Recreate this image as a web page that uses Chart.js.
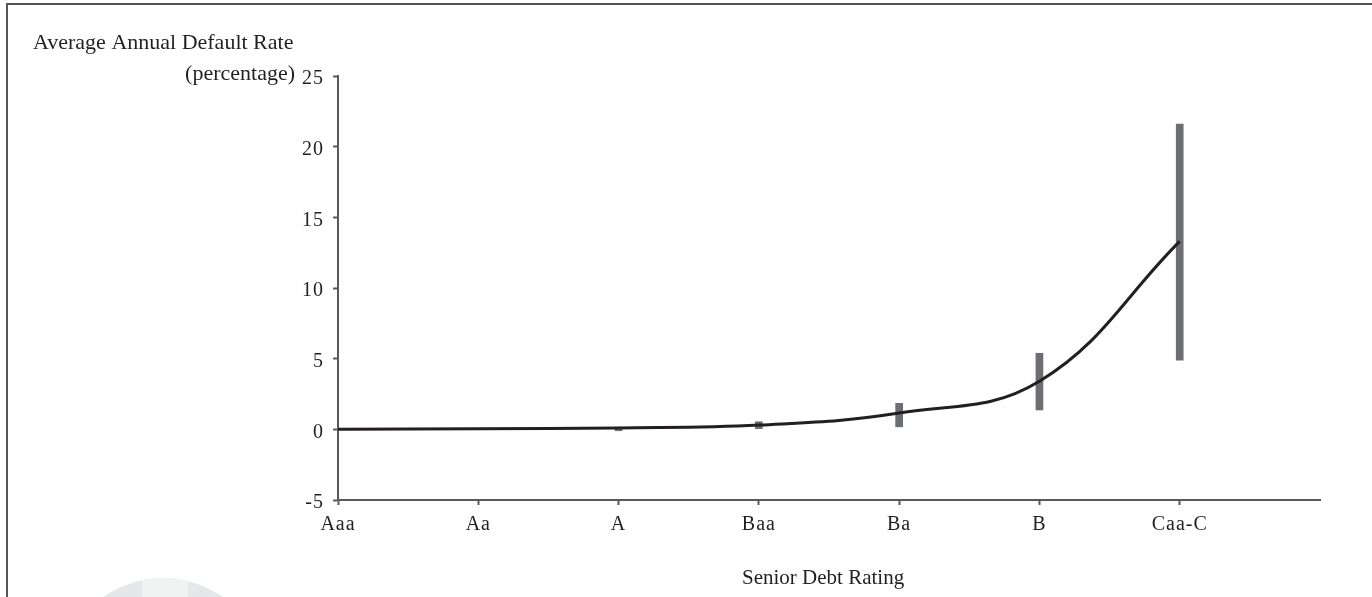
<!DOCTYPE html>
<html>
<head>
<meta charset="utf-8">
<script src="https://cdn.jsdelivr.net/npm/chart.js@4.4.1/dist/chart.umd.min.js"></script>
<style>
  html, body { margin: 0; padding: 0; background: #ffffff; }
  #wrap { position: relative; width: 1372px; height: 597px; }
</style>
</head>
<body>
<div id="wrap"><canvas id="chart" width="1372" height="597"></canvas></div>
<script>
// Senior debt rating categories
const ratings = ['Aaa', 'Aa', 'A', 'Baa', 'Ba', 'B', 'Caa-C'];
// Average annual default rate (%) per rating
const avgDefault = [0.0, 0.05, 0.1, 0.3, 1.15, 3.4, 13.3];
// Range of annual default rates (%) per rating
const rangeLow  = [0.0, 0.0, -0.1, 0.05, 0.18, 1.37, 4.9];
const rangeHigh = [0.0, 0.05, 0.15, 0.54, 1.84, 5.38, 21.6];
// Y axis tick values
const yTicks = [-5, 0, 5, 10, 15, 20, 25];

const FONT = "'Liberation Serif', 'Times New Roman', serif";
const INK = '#231f20';
const AXIS = '#58595b';
const BAR = '#6d6e71';

const lineData = ratings.map((r, i) => ({ x: i, y: avgDefault[i] }));
const barData = ratings.map((r, i) => ({ x: i, y: [rangeLow[i], rangeHigh[i]] }));

// Frame, faint emblem and axis titles
const decor = {
  id: 'decor',
  beforeDraw(chart) {
    const c = chart.ctx;
    c.save();
    // faint emblem at the lower left
    c.beginPath();
    c.arc(163, 682, 104, 0, Math.PI * 2);
    c.fillStyle = '#e6e7e8';
    c.fill();
    c.save();
    c.clip();
    c.fillStyle = '#f1f2f2';
    c.fillRect(142, 560, 46, 140);
    c.restore();
    // frame
    c.strokeStyle = '#555555';
    c.lineWidth = 2;
    c.beginPath();
    c.moveTo(7, 597);
    c.lineTo(7, 4);
    c.lineTo(1372, 4);
    c.stroke();
    c.restore();
    // slightly spaced tick lettering
    chart.ctx.letterSpacing = '1px';
  },
  beforeDatasetsDraw(chart) {
    chart.ctx.letterSpacing = '0px';
  },
  afterDraw(chart) {
    const c = chart.ctx;
    c.save();
    c.letterSpacing = '0px';
    c.fillStyle = INK;
    c.textBaseline = 'middle';
    c.font = '22px ' + FONT;
    c.textAlign = 'left';
    c.fillText('Average Annual Default Rate', 33, 43);
    c.textAlign = 'right';
    c.fillText('(percentage)', 295, 74);
    c.font = '21px ' + FONT;
    c.textAlign = 'left';
    c.fillText('Senior Debt Rating', 742, 578);
    c.restore();
  }
};

new Chart(document.getElementById('chart'), {
  type: 'bar',
  data: {
    datasets: [
      {
        type: 'line',
        label: 'Average',
        data: lineData,
        borderColor: INK,
        borderWidth: 3,
        pointRadius: 0,
        tension: 0.4,
        fill: false,
        order: 0
      },
      {
        type: 'bar',
        label: 'Range',
        data: barData,
        backgroundColor: BAR,
        borderWidth: 0,
        barThickness: 7,
        order: 1
      }
    ]
  },
  options: {
    responsive: false,
    animation: false,
    events: [],
    layout: { padding: { left: 0, right: 52, top: 76, bottom: 0 } },
    plugins: { legend: { display: false }, tooltip: { enabled: false } },
    scales: {
      x: {
        type: 'linear',
        min: 0,
        max: 7,
        offset: false,
        afterBuildTicks(scale) {
          scale.ticks = ratings.map((r, i) => ({ value: i }));
        },
        afterFit(scale) { scale.height = 97; },
        ticks: {
          autoSkip: false,
          maxRotation: 0,
          padding: 8,
          color: INK,
          font: { family: FONT, size: 20 },
          callback: (v) => ratings[v] ?? ''
        },
        grid: {
          offset: false,
          drawOnChartArea: false,
          drawTicks: true,
          tickLength: 5,
          tickWidth: 2,
          tickColor: AXIS
        },
        border: { display: true, color: AXIS, width: 2 }
      },
      y: {
        type: 'linear',
        min: -5,
        max: 25,
        afterBuildTicks(scale) {
          scale.ticks = yTicks.map(v => ({ value: v }));
        },
        afterFit(scale) { scale.width = 338; },
        ticks: {
          padding: 9,
          labelOffset: 3,
          color: INK,
          font: { family: FONT, size: 20 },
          callback: (v) => String(v)
        },
        grid: {
          drawOnChartArea: false,
          drawTicks: true,
          tickLength: 5,
          tickWidth: 2,
          tickColor: AXIS
        },
        border: { display: true, color: AXIS, width: 2 }
      }
    }
  },
  plugins: [decor]
});
</script>
</body>
</html>
